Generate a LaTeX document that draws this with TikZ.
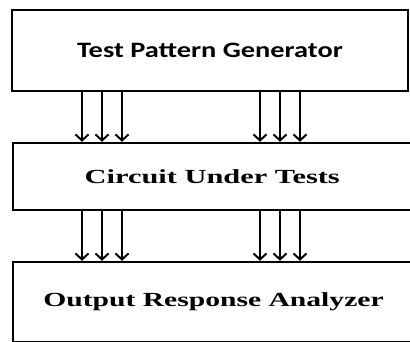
\documentclass[tikz,border=0pt]{standalone}
\usepackage{fontspec}
\setmainfont{Liberation Serif}
\newfontfamily\calib{Carlito}
\usetikzlibrary{arrows.meta}
\newcommand{\widetext}[2]{\scalebox{#1}[1]{#2}}
\begin{document}
\begin{tikzpicture}[x=1pt,y=1pt,
  blockbox/.style={draw=black, line width=2.4pt, fill=white, inner sep=0pt},
  bus/.style={line width=2.1pt, -{Straight Barb[length=6pt,width=13pt,line width=2pt]}}]
\useasboundingbox (0,0) rectangle (410,341);
\clip (0,0) rectangle (410,341);
% three stacked blocks
\node[blockbox, minimum width=396pt, minimum height=81pt,
      font=\calib\bfseries\fontsize{22}{26}\selectfont] (tpg) at (210,290.5)
      {\widetext{1.29}{Test Pattern Generator}};
\node[blockbox, minimum width=398.5pt, minimum height=67pt,
      font=\bfseries\fontsize{20}{24}\selectfont] (cut) at (212.25,164.5)
      {\widetext{1.52}{Circuit Under Tests}};
\node[blockbox, minimum width=401pt, minimum height=80pt,
      font=\bfseries\fontsize{20}{24}\selectfont] (ora) at (213.5,39)
      {\widetext{1.48}{Output Response Analyzer}};
% parallel signal lines between blocks
\foreach \px in {82,102,122,260,280,300}{
  \draw[bus] (tpg.south west -| {\px,0}) -- (cut.north west -| {\px,0});
  \draw[bus] (cut.south west -| {\px,0}) -- (ora.north west -| {\px,0});
}
\end{tikzpicture}
\end{document}
